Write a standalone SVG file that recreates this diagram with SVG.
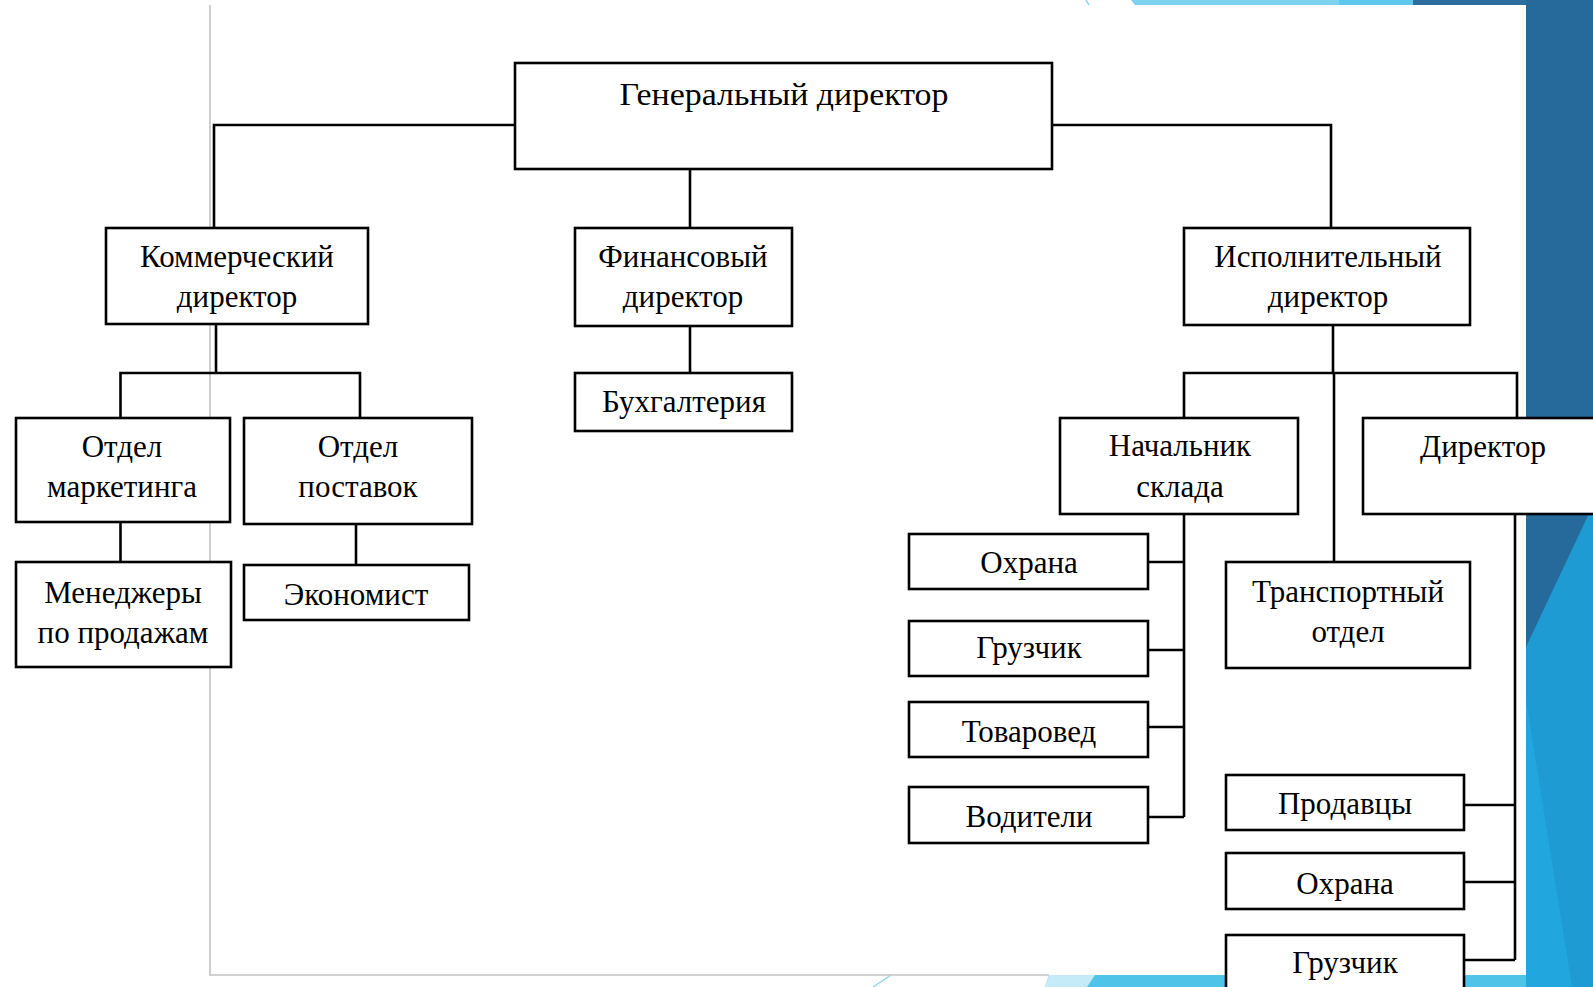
<svg xmlns="http://www.w3.org/2000/svg" width="1593" height="987" viewBox="0 0 1593 987">
<style>
.box{fill:#fff;stroke:#000;stroke-width:2.6}
.t{font-family:"Liberation Serif","Times New Roman",serif;font-size:31px;fill:#000;text-anchor:middle}
.c{fill:none;stroke:#000;stroke-width:2.6;stroke-linecap:butt;stroke-linejoin:miter}
.frame{fill:none;stroke:#c3c3c3;stroke-width:1.6}
</style>
<rect x="0" y="0" width="1593" height="987" fill="#fff"/>
<g id="background">
  <polygon points="1131,0 1339,0 1339,5 1135,5" fill="#7dd3ef"/>
  <rect x="1339" y="0" width="74" height="5" fill="#5ec8ec"/>
  <rect x="1413" y="0" width="180" height="5" fill="#2b6e9e"/>
  <line x1="1086" y1="0" x2="1089" y2="5" stroke="#8fd8f2" stroke-width="1.5"/>
  <rect x="1526" y="0" width="67" height="987" fill="#266a9b"/>
  <polygon points="1593,505 1526,647 1526,987 1593,987" fill="#1e9bd3"/>
  <polygon points="1526,700 1572,987 1526,987" fill="#22a6de"/>
  <polygon points="1049,975 1526,975 1526,987 1045,987" fill="#50c3e8"/>
  <polygon points="1049,975 1095,975 1087,987 1045,987" fill="#c5eaf8"/>
  <line x1="873" y1="987" x2="891" y2="975" stroke="#8fd8f2" stroke-width="1.5"/>
  <path class="frame" d="M210,5 V975 H1049"/>
</g>
<g id="connectors">
  <path class="c" d="M520,125 H214 V228"/>
  <path class="c" d="M1047,125 H1331 V228"/>
  <path class="c" d="M690,169 V228"/>
  <path class="c" d="M690,326 V373"/>
  <path class="c" d="M216,324 V373"/>
  <path class="c" d="M120.5,418 V373 H360 V418"/>
  <path class="c" d="M120.5,522 V562"/>
  <path class="c" d="M356,524 V565"/>
  <path class="c" d="M1333,325 V373"/>
  <path class="c" d="M1184,418 V373 H1517 V418"/>
  <path class="c" d="M1334,373 V562"/>
  <path class="c" d="M1184,514 V817"/>
  <path class="c" d="M1148,562 H1184 M1148,650 H1184 M1148,727 H1184 M1148,817 H1184"/>
  <path class="c" d="M1515,514 V960"/>
  <path class="c" d="M1464,805 H1515 M1464,882 H1515 M1464,960 H1515"/>
</g>
<g id="gen"><rect class="box" x="515" y="63" width="537" height="106"/><text class="t" x="784" y="105" textLength="329" lengthAdjust="spacingAndGlyphs">Генеральный директор</text></g>
<g id="komm"><rect class="box" x="106" y="228" width="262" height="96"/><text class="t" x="237" y="267">Коммерческий</text><text class="t" x="237" y="307">директор</text></g>
<g id="fin"><rect class="box" x="575" y="228" width="217" height="98"/><text class="t" x="683" y="267">Финансовый</text><text class="t" x="683" y="307">директор</text></g>
<g id="isp"><rect class="box" x="1184" y="228" width="286" height="97"/><text class="t" x="1328" y="267">Исполнительный</text><text class="t" x="1328" y="307">директор</text></g>
<g id="buh"><rect class="box" x="575" y="373" width="217" height="58"/><text class="t" x="684" y="412">Бухгалтерия</text></g>
<g id="market"><rect class="box" x="16" y="418" width="214" height="104"/><text class="t" x="122" y="457">Отдел</text><text class="t" x="122" y="497">маркетинга</text></g>
<g id="postav"><rect class="box" x="244" y="418" width="228" height="106"/><text class="t" x="358" y="457">Отдел</text><text class="t" x="358" y="497">поставок</text></g>
<g id="manager"><rect class="box" x="16" y="562" width="215" height="105"/><text class="t" x="123" y="603">Менеджеры</text><text class="t" x="123" y="643">по продажам</text></g>
<g id="econom"><rect class="box" x="244" y="565" width="225" height="55"/><text class="t" x="356" y="605">Экономист</text></g>
<g id="nach"><rect class="box" x="1060" y="418" width="238" height="96"/><text class="t" x="1180" y="456">Начальник</text><text class="t" x="1180" y="497">склада</text></g>
<g id="dir"><rect class="box" x="1363" y="418" width="250" height="96"/><text class="t" x="1483" y="457">Директор</text></g>
<g id="ohrana1"><rect class="box" x="909" y="534" width="239" height="55"/><text class="t" x="1029" y="573">Охрана</text></g>
<g id="gruz1"><rect class="box" x="909" y="621" width="239" height="55"/><text class="t" x="1029" y="658">Грузчик</text></g>
<g id="tovar"><rect class="box" x="909" y="702" width="239" height="55"/><text class="t" x="1029" y="742">Товаровед</text></g>
<g id="vodit"><rect class="box" x="909" y="787" width="239" height="56"/><text class="t" x="1029" y="827">Водители</text></g>
<g id="transp"><rect class="box" x="1226" y="562" width="244" height="106"/><text class="t" x="1348" y="602">Транспортный</text><text class="t" x="1348" y="642">отдел</text></g>
<g id="prodav"><rect class="box" x="1226" y="775" width="238" height="55"/><text class="t" x="1345" y="814">Продавцы</text></g>
<g id="ohrana2"><rect class="box" x="1226" y="853" width="238" height="56"/><text class="t" x="1345" y="894">Охрана</text></g>
<g id="gruz2"><rect class="box" x="1226" y="935" width="238" height="70"/><text class="t" x="1345" y="973">Грузчик</text></g>
</svg>
